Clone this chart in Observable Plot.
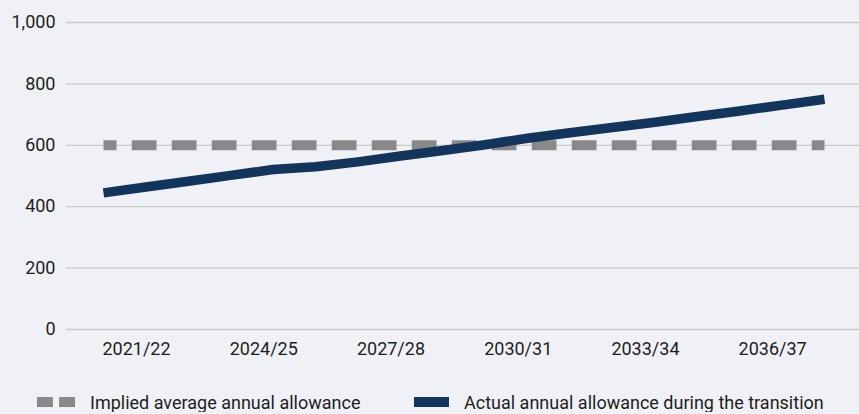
<!DOCTYPE html>
<html>
<head>
<meta charset="utf-8">
<script src="https://cdn.jsdelivr.net/npm/d3@7"></script>
<script src="https://cdn.jsdelivr.net/npm/@observablehq/plot@0.6"></script>
<style>
  html, body { margin: 0; padding: 0; background: #eff1f6; }
  body { font-family: Roboto, "Noto Sans", sans-serif; color: #1e1e1e; width: 859px; }
  #chart svg { display: block; }
  .legend { display: flex; align-items: center; height: 20px; margin-top: 22px; padding-left: 37px; font-size: 18px; }
  .item { display: flex; align-items: center; }
  .item.first { width: 377px; }
  .dash { width: 16px; height: 10px; background: #898989; }
  .dash + .dash { margin-left: 6px; }
  .solid { width: 35px; height: 10px; background: #14355b; }
  .label { margin-left: 15px; white-space: nowrap; }
</style>
</head>
<body>
<div id="chart"></div>
<div class="legend">
  <div class="item first"><div class="dash"></div><div class="dash"></div><span class="label">Implied average annual allowance</span></div>
  <div class="item"><div class="solid"></div><span class="label">Actual annual allowance during the transition</span></div>
</div>
<script>
// Fiscal years covered by the transition
const years = ["2021/22", "2022/23", "2023/24", "2024/25", "2025/26", "2026/27",
  "2027/28", "2028/29", "2029/30", "2030/31", "2031/32", "2032/33",
  "2033/34", "2034/35", "2035/36", "2036/37", "2037/38", "2038/39"];

// Actual annual allowance in each year
const actualAllowance = [445, 464, 483, 502, 521, 530, 546, 565, 583, 602,
  623, 641, 658, 675, 694, 712, 731, 750];

// Implied average annual allowance (flat)
const impliedAverage = [600, 600, 600, 600, 600, 600, 600, 600, 600, 600,
  600, 600, 600, 600, 600, 600, 600, 600];

// Labelled years on the horizontal axis and gridline values
const tickYears = ["2021/22", "2024/25", "2027/28", "2030/31", "2033/34", "2036/37"];
const yTicks = [0, 200, 400, 600, 800, 1000];

const startYear = (label) => +label.slice(0, 4);
const rows = years.map((label, i) => ({
  year: startYear(label),
  actual: actualAllowance[i],
  implied: impliedAverage[i]
}));

const chart = Plot.plot({
  width: 859,
  height: 370,
  marginLeft: 66,
  marginRight: 0,
  marginTop: 22,
  marginBottom: 41,
  style: { background: "transparent", fontFamily: "Roboto, 'Noto Sans', sans-serif", fontSize: "18px", color: "#1e1e1e" },
  x: { type: "linear", domain: [startYear(years[0]), startYear(years[years.length - 1])], insetLeft: 37, insetRight: 35, label: null },
  y: { domain: [0, 1000], label: null },
  marks: [
    Plot.gridY(yTicks, { stroke: "#c9c9c9", strokeOpacity: 1, strokeWidth: 1.3 }),
    Plot.axisY(yTicks, { tickSize: 0, tickPadding: 11, tickFormat: d3.format(","), fontSize: 18, label: null }),
    Plot.axisX(tickYears.map(startYear), {
      tickSize: 0, tickPadding: 13, dx: 33, fontSize: 18, label: null,
      tickFormat: (y) => years.find((l) => startYear(l) === y)
    }),
    Plot.lineY(rows, {
      x: "year", y: "implied", stroke: "#898989", strokeWidth: 10,
      strokeDasharray: "24.7,15.3", strokeDashoffset: 11.7, strokeLinecap: "butt"
    }),
    Plot.lineY(rows, {
      x: "year", y: "actual", stroke: "#14355b", strokeWidth: 9.5,
      strokeLinecap: "butt", strokeLinejoin: "round", curve: "linear"
    })
  ]
});
document.getElementById("chart").append(chart);
</script>
</body>
</html>
